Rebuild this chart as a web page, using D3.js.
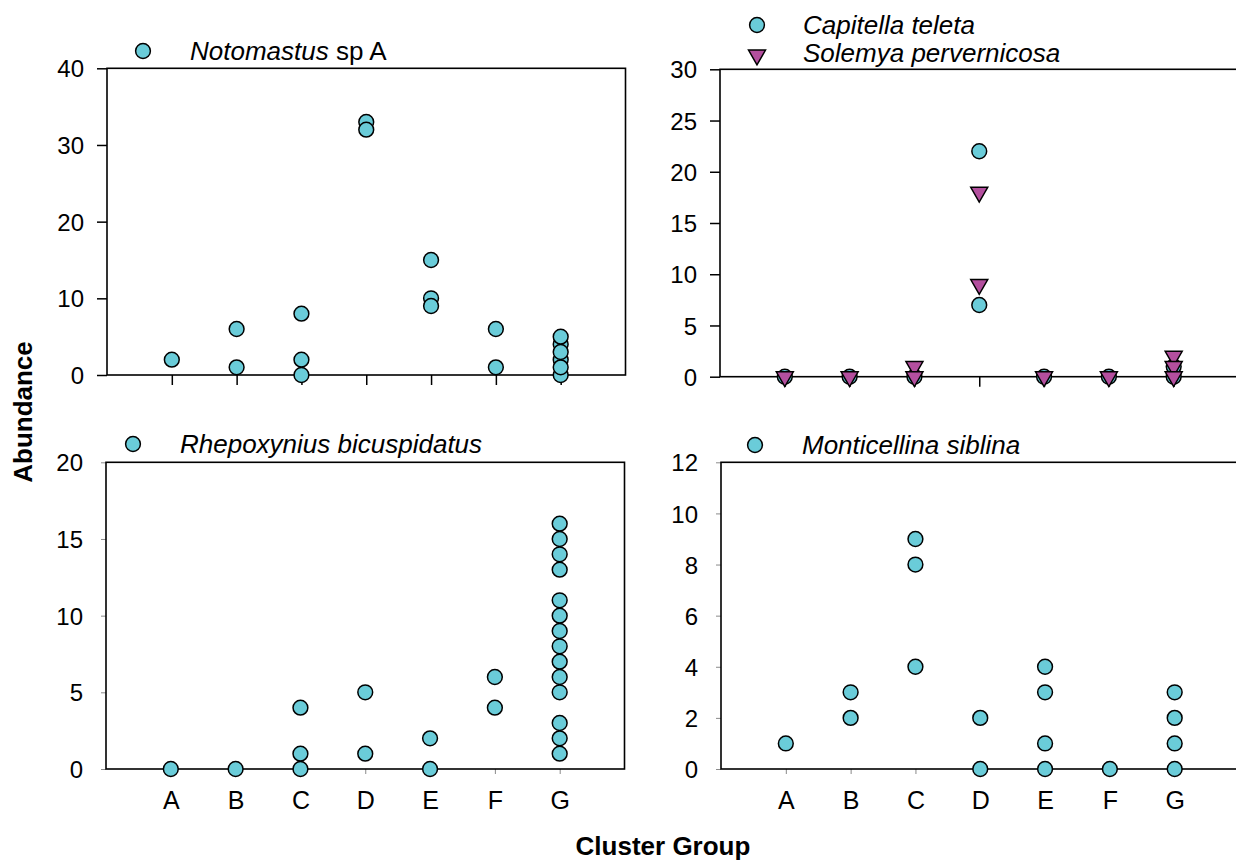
<!DOCTYPE html>
<html>
<head>
<meta charset="utf-8">
<script src="https://cdn.jsdelivr.net/npm/d3@7"></script>
<style>
  body { margin: 0; background: #fff; }
  svg { display: block; }
  text { font-family: "Liberation Sans", Arial, Helvetica, sans-serif; fill: #000; }
</style>
</head>
<body>
<svg id="chart" width="1236" height="863"></svg>
<script>
// Cluster groups on the x axis
const groups = ["A", "B", "C", "D", "E", "F", "G"];

// Abundance per sample, as [cluster group, abundance]
const notomastus = [
  ["A", 2], ["B", 6], ["B", 1], ["C", 8], ["C", 2], ["C", 0],
  ["D", 33], ["D", 32], ["E", 15], ["E", 10], ["E", 9], ["F", 6], ["F", 1],
  ["G", 0], ["G", 2], ["G", 4], ["G", 1], ["G", 3], ["G", 5]
];
const capitella = [
  ["A", 0], ["B", 0], ["C", 0], ["D", 22], ["D", 7], ["E", 0], ["F", 0], ["G", 0], ["G", 1]
];
const solemya = [
  ["A", 0], ["B", 0], ["C", 1], ["C", 0], ["D", 18], ["D", 9], ["E", 0], ["F", 0],
  ["G", 2], ["G", 1], ["G", 0]
];
const rhepoxynius = [
  ["A", 0], ["B", 0], ["C", 4], ["C", 1], ["C", 0], ["D", 5], ["D", 1], ["E", 2], ["E", 0],
  ["F", 6], ["F", 4],
  ["G", 16], ["G", 15], ["G", 14], ["G", 13], ["G", 11], ["G", 10], ["G", 9], ["G", 8],
  ["G", 7], ["G", 6], ["G", 5], ["G", 3], ["G", 2], ["G", 1]
];
const monticellina = [
  ["A", 1], ["B", 3], ["B", 2], ["C", 9], ["C", 8], ["C", 4], ["D", 2], ["D", 0],
  ["E", 4], ["E", 3], ["E", 1], ["E", 0], ["F", 0], ["G", 3], ["G", 2], ["G", 1], ["G", 0]
];

// Y tick values for each panel
const ticksNotomastus = [0, 10, 20, 30, 40];
const ticksCapitella = [0, 5, 10, 15, 20, 25, 30];
const ticksRhepoxynius = [0, 5, 10, 15, 20];
const ticksMonticellina = [0, 2, 4, 6, 8, 10, 12];

const CYAN = "#6accd9";
const MAGENTA = "#b34f9e";

const svg = d3.select("#chart");

const circleSym = d3.symbol().type(d3.symbolCircle).size(Math.PI * 7.4 * 7.4);
const triSym = d3.symbol().type(d3.symbolTriangle).size(125);

const panels = [
  {
    box: { l: 107, r: 625.5, t: 68.3, b: 375 }, yMax: 40, ticks: ticksNotomastus,
    major: true, xLabels: false,
    series: [{ data: notomastus, shape: "circle", color: CYAN }],
    legend: [{ shape: "circle", color: CYAN, cx: 143, cy: 51, tx: 190, ty: 60,
               parts: [["Notomastus", true], [" sp A", false]] }]
  },
  {
    box: { l: 720, r: 1238.5, t: 69.3, b: 376.7 }, yMax: 30, ticks: ticksCapitella,
    major: true, xLabels: false,
    series: [{ data: capitella, shape: "circle", color: CYAN },
             { data: solemya, shape: "triangle", color: MAGENTA }],
    legend: [{ shape: "circle", color: CYAN, cx: 757, cy: 25, tx: 803, ty: 33.5,
               parts: [["Capitella teleta", true]] },
             { shape: "triangle", color: MAGENTA, cx: 757, cy: 55, tx: 803, ty: 62,
               parts: [["Solemya pervernicosa", true]] }]
  },
  {
    box: { l: 106, r: 624.5, t: 462.3, b: 769 }, yMax: 20, ticks: ticksRhepoxynius,
    major: false, xLabels: true,
    series: [{ data: rhepoxynius, shape: "circle", color: CYAN }],
    legend: [{ shape: "circle", color: CYAN, cx: 133, cy: 444, tx: 180, ty: 453,
               parts: [["Rhepoxynius bicuspidatus", true]] }]
  },
  {
    box: { l: 721, r: 1239.5, t: 462.3, b: 769 }, yMax: 12, ticks: ticksMonticellina,
    major: false, xLabels: true,
    series: [{ data: monticellina, shape: "circle", color: CYAN }],
    legend: [{ shape: "circle", color: CYAN, cx: 755, cy: 445, tx: 802, ty: 454,
               parts: [["Monticellina siblina", true]] }]
  }
];

function symbolPath(shape) {
  return shape === "circle" ? circleSym() : triSym();
}

panels.forEach(p => {
  const { l, r, t, b } = p.box;
  const g = svg.append("g");

  // Categories sit at positions 1..7 on a 0..8 axis
  const x = d3.scaleLinear().domain([0, groups.length + 1]).range([l, r]);
  const xPos = k => x(groups.indexOf(k) + 1);
  const y = d3.scaleLinear().domain([0, p.yMax]).range([b, t]);

  const tickLen = p.major ? 10 : 5;
  const tickColor = p.major ? "#000" : "#8a8a8a";
  const tickWidth = p.major ? 1.5 : 1;

  // Y axis
  const yAxis = g.append("g").attr("transform", `translate(${l},0)`)
    .call(d3.axisLeft(y).tickValues(p.ticks).tickSize(tickLen).tickSizeOuter(0)
      .tickPadding(23 - tickLen));
  yAxis.select(".domain").remove();
  yAxis.selectAll(".tick line").attr("stroke", tickColor).attr("stroke-width", tickWidth);
  yAxis.selectAll(".tick text").attr("font-size", 24).attr("font-family", null)
    .attr("dy", "0.36em");

  // X axis
  const xAxis = g.append("g").attr("transform", `translate(0,${b})`)
    .call(d3.axisBottom(x).tickValues(d3.range(1, groups.length + 1))
      .tickFormat(i => p.xLabels ? groups[i - 1] : "")
      .tickSize(tickLen).tickSizeOuter(0));
  xAxis.select(".domain").remove();
  xAxis.selectAll(".tick line").attr("stroke", tickColor).attr("stroke-width", tickWidth);
  xAxis.selectAll(".tick text").attr("font-size", 25).attr("font-family", null)
    .attr("y", 40).attr("dy", 0);

  // Frame
  g.append("rect")
    .attr("x", l).attr("y", t).attr("width", r - l).attr("height", b - t)
    .attr("fill", "none").attr("stroke", "#000").attr("stroke-width", 1.6);

  // Points
  p.series.forEach(s => {
    g.append("g").selectAll("path").data(s.data).join("path")
      .attr("d", symbolPath(s.shape))
      .attr("transform", d => `translate(${xPos(d[0])},${y(d[1])})` + (s.shape === "triangle" ? " rotate(180)" : ""))
      .attr("fill", s.color).attr("stroke", "#000").attr("stroke-width", 1.5);
  });

  // Legend
  p.legend.forEach(e => {
    g.append("path").attr("d", symbolPath(e.shape))
      .attr("transform", `translate(${e.cx},${e.cy})` + (e.shape === "triangle" ? " rotate(180)" : ""))
      .attr("fill", e.color).attr("stroke", "#000").attr("stroke-width", 1.5);
    const txt = g.append("text").attr("x", e.tx).attr("y", e.ty).attr("font-size", 26);
    e.parts.forEach(([s, it]) => txt.append("tspan").attr("font-style", it ? "italic" : "normal").text(s));
  });
});

// Shared axis titles
svg.append("text").attr("x", 663).attr("y", 855).attr("text-anchor", "middle")
  .attr("font-size", 26).attr("font-weight", "bold").text("Cluster Group");
svg.append("text").attr("transform", "translate(32,412) rotate(-90)").attr("text-anchor", "middle")
  .attr("font-size", 26).attr("font-weight", "bold").text("Abundance");
</script>
</body>
</html>
